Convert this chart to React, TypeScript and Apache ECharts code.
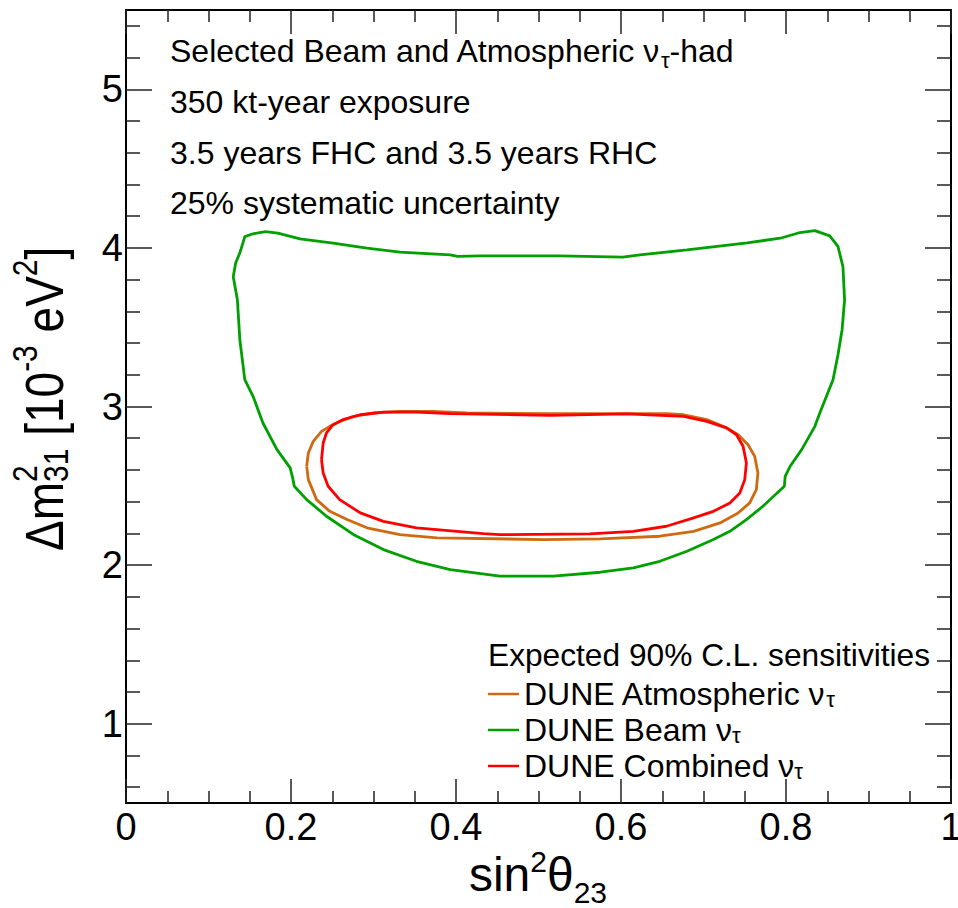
import React, { useEffect, useRef } from 'react';
import * as echarts from 'echarts';

const FONT = '"Liberation Sans", Arial, Helvetica, sans-serif';

// Axis ranges and tick values
const X_MIN = 0;
const X_MAX = 1;
const X_STEP = 0.2;
const Y_MIN = 0.5;
const Y_MAX = 5.5;
const Y_MAJOR = [1, 2, 3, 4, 5];
const Y_MINOR = [0.6, 0.8, 1.2, 1.4, 1.6, 1.8, 2.2, 2.4, 2.6, 2.8, 3.2, 3.4, 3.6, 3.8, 4.2, 4.4, 4.6, 4.8, 5.2, 5.4];

// Series names
const NAME_ATMOS = 'DUNE Atmospheric ντ';
const NAME_BEAM = 'DUNE Beam ντ';
const NAME_COMB = 'DUNE Combined ντ';

// Contours: [sin^2(theta23), dm^2_31 (1e-3 eV^2)]
const BEAM: number[][] = [
  [0.154, 4.089], [0.169, 4.103], [0.184, 4.093], [0.211, 4.057], [0.251, 4.030], [0.292, 3.998],
  [0.332, 3.973], [0.393, 3.956], [0.402, 3.947], [0.429, 3.950], [0.526, 3.950], [0.602, 3.942],
  [0.623, 3.956], [0.680, 3.988], [0.753, 4.032], [0.793, 4.061], [0.817, 4.097], [0.835, 4.109],
  [0.853, 4.076], [0.863, 4.009], [0.869, 3.882], [0.871, 3.673], [0.868, 3.484], [0.863, 3.326],
  [0.857, 3.169], [0.841, 2.959], [0.835, 2.875], [0.819, 2.728], [0.805, 2.623], [0.799, 2.560],
  [0.798, 2.497], [0.785, 2.434], [0.772, 2.371], [0.752, 2.287], [0.732, 2.213], [0.712, 2.161],
  [0.680, 2.087], [0.647, 2.024], [0.615, 1.983], [0.575, 1.955], [0.518, 1.930], [0.453, 1.930],
  [0.393, 1.972], [0.352, 2.024], [0.312, 2.098], [0.276, 2.192], [0.243, 2.308], [0.219, 2.413],
  [0.204, 2.497], [0.202, 2.550], [0.199, 2.613], [0.183, 2.728], [0.166, 2.896], [0.154, 3.064],
  [0.144, 3.169], [0.138, 3.421], [0.135, 3.673], [0.130, 3.818], [0.133, 3.906], [0.138, 3.969],
  [0.141, 4.019], [0.144, 4.071], [0.154, 4.089],
];

const ATMOS: number[][] = [
  [0.219, 2.623], [0.221, 2.707], [0.227, 2.780], [0.237, 2.843], [0.247, 2.875], [0.259, 2.906],
  [0.276, 2.938], [0.300, 2.959], [0.332, 2.969], [0.372, 2.969], [0.413, 2.959], [0.514, 2.955],
  [0.655, 2.955], [0.676, 2.948], [0.704, 2.917], [0.728, 2.865], [0.742, 2.822], [0.754, 2.759],
  [0.762, 2.686], [0.766, 2.581], [0.764, 2.476], [0.756, 2.392], [0.742, 2.329], [0.720, 2.266],
  [0.688, 2.213], [0.647, 2.182], [0.575, 2.165], [0.506, 2.161], [0.377, 2.172], [0.332, 2.192],
  [0.292, 2.235], [0.268, 2.287], [0.247, 2.339], [0.231, 2.413], [0.221, 2.539], [0.219, 2.623],
];

const COMBINED: number[][] = [
  [0.237, 2.665], [0.239, 2.770], [0.243, 2.833], [0.251, 2.885], [0.263, 2.917], [0.284, 2.948],
  [0.312, 2.965], [0.352, 2.965], [0.393, 2.955], [0.514, 2.944], [0.607, 2.953], [0.676, 2.938],
  [0.704, 2.906], [0.728, 2.865], [0.740, 2.822], [0.748, 2.749], [0.752, 2.644], [0.750, 2.539],
  [0.744, 2.455], [0.732, 2.392], [0.712, 2.339], [0.688, 2.298], [0.655, 2.245], [0.615, 2.213],
  [0.562, 2.197], [0.453, 2.192], [0.433, 2.199], [0.352, 2.235], [0.312, 2.276], [0.284, 2.329],
  [0.259, 2.413], [0.245, 2.497], [0.239, 2.581], [0.237, 2.665],
];

const ANNOTATION_LINES = [
  'Selected Beam and Atmospheric ν{sub|τ}-had',
  '350 kt-year exposure',
  '3.5 years FHC and 3.5 years RHC',
  '25% systematic uncertainty',
];
const LEGEND_HEADER = 'Expected 90% C.L. sensitivities';

const COLOR_ATMOS = '#d06a10';
const COLOR_BEAM = '#00a000';
const COLOR_COMB = '#ff0000';

const tickLine = { color: '#222', width: 1.5 };
const frameLine = { show: true, lineStyle: { color: '#000', width: 2 } };

function xAxisDef(position: 'bottom' | 'top', labels: boolean) {
  return {
    type: 'value',
    position,
    min: X_MIN,
    max: X_MAX,
    interval: X_STEP,
    axisLine: frameLine,
    axisTick: { show: true, inside: true, length: 24, lineStyle: tickLine },
    minorTick: { show: true, splitNumber: 4, length: 12, lineStyle: tickLine },
    axisLabel: {
      show: labels,
      fontSize: 38,
      fontFamily: FONT,
      color: '#000',
      margin: 5,
      showMinLabel: true,
      showMaxLabel: true,
    },
    splitLine: { show: false },
    minorSplitLine: { show: false },
  };
}

function yAxisDef(position: 'left' | 'right', major: boolean, labels: boolean) {
  return {
    type: 'value',
    position,
    min: Y_MIN,
    max: Y_MAX,
    axisLine: major ? frameLine : { show: false },
    axisTick: {
      show: true,
      inside: true,
      length: major ? 26 : 14,
      customValues: major ? Y_MAJOR : Y_MINOR,
      lineStyle: tickLine,
    },
    axisLabel: {
      show: labels,
      customValues: Y_MAJOR,
      fontSize: 38,
      fontFamily: FONT,
      color: '#000',
      margin: 3,
    },
    splitLine: { show: false },
  };
}

function lineSeries(name: string, data: number[][], color: string, z: number) {
  return {
    name,
    type: 'line',
    data,
    xAxisIndex: 0,
    yAxisIndex: 0,
    showSymbol: false,
    symbol: 'none',
    color,
    lineStyle: { color, width: 2.8 },
    z,
    silent: true,
    clip: true,
  };
}

export default function App() {
  const ref = useRef<HTMLDivElement>(null);

  useEffect(() => {
    if (!ref.current) return;
    const chart = echarts.init(ref.current, undefined, { renderer: 'svg' });

    const subLegend = { fontSize: 22, fontFamily: FONT, color: '#000', lineHeight: 10, padding: [11, 0, 0, 0] };

    const option: any = {
      animation: false,
      backgroundColor: '#fff',
      grid: { left: 126, right: 7, top: 10, bottom: 105, containLabel: false, outerBoundsMode: 'none' },
      xAxis: [xAxisDef('bottom', true), xAxisDef('top', false)],
      yAxis: [
        yAxisDef('left', true, true),
        yAxisDef('left', false, false),
        yAxisDef('right', true, false),
        yAxisDef('right', false, false),
      ],
      legend: {
        show: true,
        orient: 'vertical',
        left: 488,
        top: 676,
        padding: 0,
        itemGap: 0,
        itemWidth: 31,
        itemHeight: 2.5,
        icon: 'rect',
        selectedMode: false,
        data: [NAME_ATMOS, NAME_BEAM, NAME_COMB],
        formatter: (name: string) => name.replace('ντ', 'ν{sub|τ}'),
        textStyle: {
          fontSize: 32,
          fontFamily: FONT,
          color: '#000',
          lineHeight: 36,
          rich: { sub: subLegend },
        },
      },
      graphic: [
        ...ANNOTATION_LINES.map((t, i) => ({
          type: 'text',
          x: 170,
          y: 51.3 + i * 50.7,
          silent: true,
          style: {
            text: t,
            fontSize: 32,
            fontFamily: FONT,
            fill: '#000',
            align: 'left',
            verticalAlign: 'middle',
            rich: {
              sub: { fontSize: 22, fontFamily: FONT, fill: '#000', padding: [18, 0, 0, 0] },
            },
          },
        })),
        {
          type: 'text',
          x: 488,
          y: 655.3,
          silent: true,
          style: {
            text: LEGEND_HEADER,
            fontSize: 31.7,
            fontFamily: FONT,
            fill: '#000',
            align: 'left',
            verticalAlign: 'middle',
          },
        },
        {
          type: 'text',
          x: 538,
          y: 874,
          silent: true,
          style: {
            text: 'sin{sup|2}θ{sub|23}',
            fontSize: 48,
            fontFamily: FONT,
            fill: '#000',
            align: 'center',
            verticalAlign: 'middle',
            rich: {
              sup: { fontSize: 30, fontFamily: FONT, fill: '#000', padding: [0, 0, 25, 0] },
              sub: { fontSize: 30, fontFamily: FONT, fill: '#000', padding: [36, 0, 0, 0] },
            },
          },
        },
        {
          type: 'group',
          x: 45,
          y: 399,
          rotation: Math.PI / 2,
          scaleY: 1.15,
          silent: true,
          children: [
            {
              type: 'text',
              x: -152,
              y: 0,
              style: {
                text: 'Δm{sub|31} [10{sup|-3} eV{sup|2}]',
                fontSize: 46,
                fontFamily: FONT,
                fill: '#000',
                align: 'left',
                verticalAlign: 'middle',
                rich: {
                  sub: { fontSize: 30, fontFamily: FONT, fill: '#000', padding: [20, 0, 0, 0] },
                  sup: { fontSize: 30, fontFamily: FONT, fill: '#000', padding: [0, 0, 34, 0] },
                },
              },
            },
            {
              type: 'text',
              x: -83,
              y: -17,
              style: {
                text: '2',
                fontSize: 30,
                fontFamily: FONT,
                fill: '#000',
                align: 'left',
                verticalAlign: 'middle',
              },
            },
          ],
        },
      ],
      series: [
        lineSeries(NAME_ATMOS, ATMOS, COLOR_ATMOS, 2),
        lineSeries(NAME_BEAM, BEAM, COLOR_BEAM, 3),
        lineSeries(NAME_COMB, COMBINED, COLOR_COMB, 4),
      ],
    };

    chart.setOption(option);
    return () => {
      chart.dispose();
    };
  }, []);

  return (
    <div
      ref={ref}
      style={{ position: 'absolute', left: 0, top: 0, width: 958, height: 908, background: '#fff' }}
    />
  );
}
